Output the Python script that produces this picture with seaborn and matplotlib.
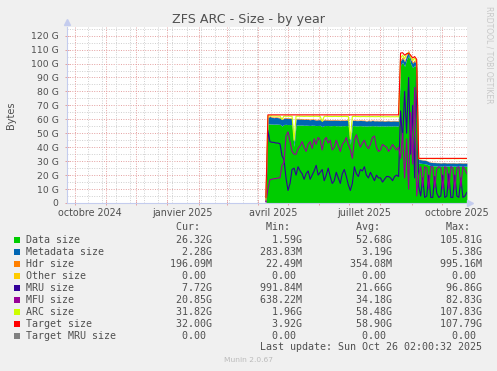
import numpy as np
import pandas as pd
import matplotlib
matplotlib.use("Agg")
import matplotlib.pyplot as plt
import matplotlib.dates as mdates
from matplotlib.patches import Rectangle
import seaborn as sns

# ---------------- data (GB), one sample every 2 days from 2025-04-09 ----------------
start_date = "2025-04-09"
sample_step = "2D"

data_size = [
    1.59,
    56.6, 56.7, 56.6, 56.5, 56.6, 56.5, 56.4, 55.2, 56.3, 56.4, 56.2, 56.3, 56.1,
    40.5,
    55.9, 56.0, 55.8, 55.9, 55.7, 55.8, 55.7, 55.6, 55.8, 55.7, 55.5, 55.6, 55.7, 54.8,
    55.6, 55.5, 55.6, 55.4, 55.5, 55.6, 55.4, 55.5, 55.3, 55.5, 55.4, 55.6, 55.4,
    42.0,
    55.4, 55.5, 55.3, 55.4, 55.5, 55.3, 55.4, 55.2, 55.4, 55.3, 55.5, 55.3, 55.4, 55.2,
    55.3, 55.4, 55.2, 55.3, 55.4, 55.2, 55.3, 55.4, 55.2, 55.3,
    99.0, 101.0, 98.0, 103.0, 105.81, 100.0, 97.0, 99.0, 96.0,
    28.6, 28.5, 28.3, 28.2, 27.8, 27.2, 26.8, 26.6, 26.7, 26.5, 26.6, 26.4, 26.5,
    26.6, 26.4, 26.5, 26.3, 26.5, 26.4, 26.3, 26.5, 26.4, 26.3, 26.4, 26.32,
]
metadata_size = [
    0.28,
    4.8, 5.38, 4.8, 4.7, 4.8, 4.7, 4.6, 4.6, 4.5, 4.6, 4.5, 4.4, 4.5,
    3.0,
    4.4, 4.3, 4.4, 4.3, 4.2, 4.3, 4.2, 4.1, 4.2, 4.1, 4.0, 4.1, 4.0, 4.0,
    4.1, 4.0, 3.9, 4.0, 3.9, 3.9, 4.0, 3.9, 3.8, 3.9, 3.8, 3.9, 3.8,
    3.0,
    3.8, 3.7, 3.8, 3.7, 3.7, 3.8, 3.7, 3.6, 3.7, 3.6, 3.7, 3.6, 3.6, 3.7,
    3.6, 3.6, 3.5, 3.6, 3.6, 3.5, 3.6, 3.5, 3.6, 3.5,
    3.2, 3.0, 3.4, 2.8, 2.9, 3.1, 3.3, 2.9, 2.7,
    2.6, 2.6, 2.5, 2.5, 2.5, 2.4, 2.4, 2.4, 2.3, 2.4, 2.3, 2.3, 2.4,
    2.3, 2.3, 2.3, 2.4, 2.3, 2.3, 2.3, 2.3, 2.3, 2.3, 2.3, 2.28,
]
hdr_size = [
    0.022,
    0.45, 0.46, 0.45, 0.44, 0.45, 0.44, 0.44, 0.43, 0.44, 0.43, 0.43, 0.42, 0.43,
    0.32,
    0.42, 0.42, 0.41, 0.42, 0.41, 0.41, 0.40, 0.41, 0.40, 0.40, 0.41, 0.40, 0.39, 0.40,
    0.39, 0.40, 0.39, 0.39, 0.40, 0.39, 0.38, 0.39, 0.38, 0.39, 0.38, 0.38, 0.39,
    0.32,
    0.38, 0.37, 0.38, 0.37, 0.38, 0.37, 0.37, 0.36, 0.37, 0.36, 0.37, 0.36, 0.36, 0.37,
    0.36, 0.36, 0.35, 0.36, 0.35, 0.36, 0.35, 0.35, 0.36, 0.35,
    0.92, 0.98, 0.90, 0.995, 0.96, 0.93, 0.88, 0.90, 0.85,
    0.24, 0.23, 0.23, 0.22, 0.22, 0.21, 0.21, 0.20, 0.20, 0.20, 0.20, 0.20, 0.20,
    0.20, 0.20, 0.20, 0.20, 0.20, 0.20, 0.20, 0.20, 0.20, 0.20, 0.20, 0.196,
]
other_size = [
    0, 0, 0, 0, 0, 0, 0, 0, 0, 0, 0, 0, 0, 0, 0, 0, 0, 0, 0, 0,
    0, 0, 0, 0, 0, 0, 0, 0, 0, 0, 0, 0, 0, 0, 0, 0, 0, 0, 0, 0,
    0, 0, 0, 0, 0, 0, 0, 0, 0, 0, 0, 0, 0, 0, 0, 0, 0, 0, 0, 0,
    0, 0, 0, 0, 0, 0, 0, 0, 0, 0, 0, 0, 0, 0, 0, 0, 0, 0, 0, 0,
    0, 0, 0, 0, 0, 0, 0, 0, 0, 0, 0, 0, 0, 0, 0, 0, 0, 0, 0, 0, 0,
]
mru_size = [
    1.0,
    52, 44, 43.5, 43.5, 43, 43, 42.5, 34, 31, 18, 9, 14, 24,
    25,
    20, 26, 23, 21, 17, 21, 23, 17, 20, 23, 27, 20, 22, 24,
    16, 20, 25, 19, 14, 16, 22, 18, 14, 21, 24, 19, 13,
    9,
    14, 26, 21, 19, 24, 23, 26, 20, 18, 22, 19, 16, 20, 18,
    18, 15, 17, 19, 19, 18, 16, 19, 20, 19,
    66, 45, 80, 50, 90, 35, 70, 18, 96.86,
    12, 5, 18, 4, 5, 20, 4, 4, 19, 7, 4, 5, 20,
    4, 5, 21, 4, 4, 20, 5, 4, 18, 4, 5, 7.72,
]
mfu_size = [
    0.64,
    10, 16.7, 17, 17.5, 17.5, 18, 18, 27, 29, 48, 51, 44, 37,
    35,
    35, 39, 41, 44, 40, 37, 42, 44, 39, 46, 42, 47, 45, 38,
    45, 47, 43, 45, 38, 40, 45, 41, 37, 42, 44, 47, 42,
    38,
    32, 45, 49, 44, 40, 43, 45, 41, 39, 42, 47, 48, 40, 37,
    38, 42, 41, 40, 37, 39, 42, 40, 38, 40,
    32, 50, 18, 46, 10, 65, 28, 82.83, 5,
    20, 26, 12, 26, 25, 10, 26, 26, 11, 24, 26, 25, 10,
    26, 25, 10, 26, 25, 10, 25, 26, 12, 26, 24, 20.85,
]
arc_size = [
    1.96,
    62.4, 62.5, 62.4, 62.3, 62.4, 62.3, 62.3, 60.0, 62.3, 62.2, 62.3, 62.2, 62.2,
    45.0,
    62.2, 62.3, 62.2, 62.2, 62.1, 62.2, 62.2, 62.1, 62.2, 62.1, 62.2, 62.1, 62.1, 58.5,
    62.1, 62.2, 62.1, 62.1, 62.0, 62.1, 62.1, 62.0, 62.1, 62.0, 62.1, 62.0, 62.0,
    46.0,
    62.0, 62.1, 62.0, 62.0, 61.9, 62.0, 62.0, 61.9, 62.0, 61.9, 62.0, 61.9, 61.9, 62.0,
    61.9, 61.9, 61.8, 61.9, 61.9, 61.8, 61.9, 61.8, 61.9, 61.8,
    104.0, 106.0, 103.5, 107.0, 107.83, 105.0, 102.0, 104.0, 101.0,
    31.9, 31.9, 31.8, 31.9, 31.8, 31.8, 31.9, 31.8, 31.8, 31.9, 31.8, 31.8, 31.8,
    31.9, 31.8, 31.8, 31.8, 31.9, 31.8, 31.8, 31.8, 31.9, 31.8, 31.8, 31.82,
]
target_size = [
    3.92,
    63.2, 63.2, 63.2, 63.2, 63.2, 63.2, 63.2, 63.2, 63.2, 63.2, 63.2, 63.2, 63.2,
    63.2,
    63.2, 63.2, 63.2, 63.2, 63.2, 63.2, 63.2, 63.2, 63.2, 63.2, 63.2, 63.2, 63.2, 63.2,
    63.2, 63.2, 63.2, 63.2, 63.2, 63.2, 63.2, 63.2, 63.2, 63.2, 63.2, 63.2, 63.2,
    63.2,
    63.2, 63.2, 63.2, 63.2, 63.2, 63.2, 63.2, 63.2, 63.2, 63.2, 63.2, 63.2, 63.2, 63.2,
    63.2, 63.2, 63.2, 63.2, 63.2, 63.2, 63.2, 63.2, 63.2, 63.2,
    107.5, 107.79, 106.0, 107.0, 107.5, 106.0, 104.0, 105.0, 103.0,
    32.0, 32.0, 32.0, 32.0, 32.0, 32.0, 32.0, 32.0, 32.0, 32.0, 32.0, 32.0, 32.0,
    32.0, 32.0, 32.0, 32.0, 32.0, 32.0, 32.0, 32.0, 32.0, 32.0, 32.0, 32.00,
]
target_mru_size = [
    0, 0, 0, 0, 0, 0, 0, 0, 0, 0, 0, 0, 0, 0, 0, 0, 0, 0, 0, 0,
    0, 0, 0, 0, 0, 0, 0, 0, 0, 0, 0, 0, 0, 0, 0, 0, 0, 0, 0, 0,
    0, 0, 0, 0, 0, 0, 0, 0, 0, 0, 0, 0, 0, 0, 0, 0, 0, 0, 0, 0,
    0, 0, 0, 0, 0, 0, 0, 0, 0, 0, 0, 0, 0, 0, 0, 0, 0, 0, 0, 0,
    0, 0, 0, 0, 0, 0, 0, 0, 0, 0, 0, 0, 0, 0, 0, 0, 0, 0, 0, 0, 0,
]

# ---------------- legend / labels ----------------
series_names = ["Data size", "Metadata size", "Hdr size", "Other size", "MRU size",
                "MFU size", "ARC size", "Target size", "Target MRU size"]
series_colors = ["#00CC00", "#0066B3", "#FF8000", "#FFCC00", "#330099",
                 "#990099", "#CCFF00", "#FF0000", "#808080"]
cur_vals = ["26.32G", "2.28G", "196.09M", "0.00", "7.72G", "20.85G", "31.82G", "32.00G", "0.00"]
min_vals = ["1.59G", "283.83M", "22.49M", "0.00", "991.84M", "638.22M", "1.96G", "3.92G", "0.00"]
avg_vals = ["52.68G", "3.19G", "354.08M", "0.00", "21.66G", "34.18G", "58.48G", "58.90G", "0.00"]
max_vals = ["105.81G", "5.38G", "995.16M", "0.00", "96.86G", "82.83G", "107.83G", "107.79G", "0.00"]
x_label_texts = ["octobre 2024", "janvier 2025", "avril 2025", "juillet 2025", "octobre 2025"]
x_label_dates = ["2024-10-16", "2025-01-16", "2025-04-16", "2025-07-16", "2025-10-16"]
y_ticks = [0, 10, 20, 30, 40, 50, 60, 70, 80, 90, 100, 110, 120]
y_tick_labels = ["0", "10 G", "20 G", "30 G", "40 G", "50 G", "60 G", "70 G", "80 G",
                 "90 G", "100 G", "110 G", "120 G"]
x_start = pd.Timestamp("2024-09-23 02:00")
x_end = pd.Timestamp("2025-10-26 02:00")
last_update = "Last update: Sun Oct 26 02:00:32 2025"

# ---------------- figure ----------------
sns.set_theme(style="white")
plt.rcParams["font.family"] = ["DejaVu Sans"]

W, H = 497, 371
fig = plt.figure(figsize=(W / 100, H / 100), dpi=100)
fig.patch.set_facecolor("#F0F0F0")
ax = fig.add_axes([67 / W, 1 - 203 / H, 400 / W, 176 / H])
ax.set_facecolor("white")

dates = pd.date_range(start_date, periods=len(data_size), freq=sample_step)

# grid
txt = "#505050"
ax.set_xlim(x_start, x_end)
ax.set_ylim(0, 126.2)
for yv in np.arange(5, 126, 5):
    major = (yv % 10 == 0)
    ax.axhline(yv, color="#E4A0A0" if major else "#CFCFCF", lw=0.7,
               ls=(0, (1, 1.5)), zorder=0.5)
for d in pd.date_range("2024-10-14", x_end, freq="14D"):
    ax.axvline(d, color="#CFCFCF", lw=0.7, ls=(0, (1, 1.5)), zorder=0.5)
month_starts = pd.date_range("2024-10-01", x_end, freq="MS")
for d in month_starts:
    ax.axvline(d, color="#E4A0A0", lw=0.7, ls=(0, (1, 1.5)), zorder=0.6)

# stacked areas
base = np.zeros(len(dates))
for vals, col in [(data_size, series_colors[0]), (metadata_size, series_colors[1]),
                  (hdr_size, series_colors[2]), (other_size, series_colors[3])]:
    top = base + np.asarray(vals, dtype=float)
    ax.fill_between(dates, base, top, color=col, linewidth=0, zorder=2)
    base = top

# lines
for vals, col in [(mru_size, series_colors[4]), (mfu_size, series_colors[5]),
                  (arc_size, series_colors[6]), (target_size, series_colors[7]),
                  (target_mru_size, series_colors[8])]:
    sns.lineplot(x=dates, y=vals, color=col, linewidth=0.8, ax=ax, zorder=3)

ax.set_xlabel("")
ax.set_ylabel("")

# ticks
ax.set_yticks(y_ticks)
ax.set_yticklabels(y_tick_labels)
ax.set_xticks(month_starts)
ax.set_xticklabels([])
ax.tick_params(axis="y", which="major", direction="inout", length=3, width=0.7,
               color="#E4A0A0", labelsize=6.7, labelcolor=txt, pad=4.5, left=True)
ax.tick_params(axis="x", which="major", direction="inout", length=3, width=0.7,
               color="#E4A0A0", bottom=True)
for s in ["top", "right"]:
    ax.spines[s].set_visible(False)
for s in ["left", "bottom"]:
    ax.spines[s].set_color("#C4CCEE")
    ax.spines[s].set_linewidth(0.8)
    ax.spines[s].set_zorder(4)
ax.plot([0], [1.03], marker="^", ms=4, color="#C4CCEE", transform=ax.transAxes,
        clip_on=False, zorder=5)
ax.plot([1.008], [0], marker=">", ms=4, color="#C4CCEE", transform=ax.transAxes,
        clip_on=False, zorder=5)

xt = ax.get_xaxis_transform()
for lab, d in zip(x_label_texts, x_label_dates):
    ax.text(pd.Timestamp(d), -10 / 176, lab, transform=xt, ha="center", va="center",
            fontsize=6.9, color=txt)

# titles
fig.text(248.5 / W, 1 - 19.5 / H, "ZFS ARC - Size - by year", ha="center", va="center",
         fontsize=9.1, color=txt)
fig.text(11 / W, 1 - 115 / H, "Bytes", rotation=90, ha="center", va="center",
         fontsize=7, color=txt)
fig.text(489 / W, 1 - 6 / H, "RRDTOOL / TOBI OETIKER", rotation=270, ha="center",
         va="top", fontsize=5.5, color="#C8C8C8")

# legend
mono = "DejaVu Sans Mono"
lx = 26.3 / W
def fmt(v, width):
    s = v if v[-1].isalpha() else v + " "
    return s.rjust(width)

header = " " * 25 + "Cur:  " + " " * 9 + "Min:  " + " " * 9 + "Avg:  " + " " * 9 + "Max:  "
fig.text(lx, 1 - 227 / H, header, ha="left", va="center", fontsize=7.2, family=mono, color=txt)
for i, name in enumerate(series_names):
    yp = 240 + 12 * i
    row = name.ljust(25)[:25]
    row = name + fmt(cur_vals[i], 31 - len(name)) + fmt(min_vals[i], 15) + \
        fmt(avg_vals[i], 15) + fmt(max_vals[i], 15)
    fig.text(lx, 1 - yp / H, row, ha="left", va="center", fontsize=7.2, family=mono, color=txt)
    fig.patches.append(Rectangle((14.3 / W, 1 - (yp + 3) / H), 6 / W, 6 / H,
                                 transform=fig.transFigure, facecolor=series_colors[i],
                                 edgecolor="none"))
fig.text(lx, 1 - 347.5 / H, last_update.rjust(76), ha="left", va="center", fontsize=7.2,
         family=mono, color=txt)
fig.text(248.5 / W, 1 - 360 / H, "Munin 2.0.67", ha="center", va="center", fontsize=5.4,
         color="#BBBBBB")

fig.savefig("out.png", dpi=100, facecolor=fig.get_facecolor())
